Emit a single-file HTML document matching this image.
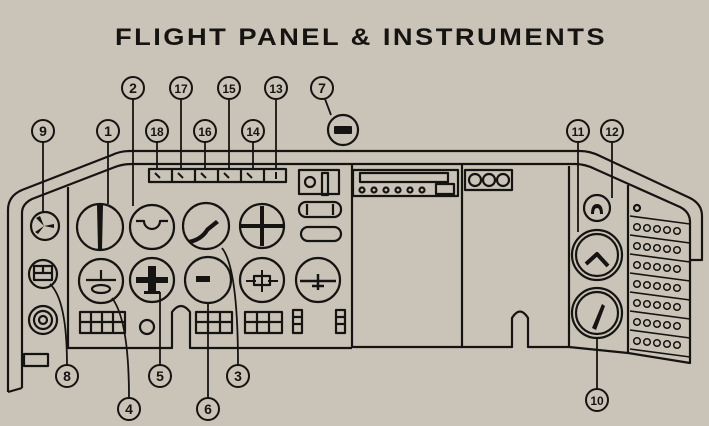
<!DOCTYPE html>
<html><head><meta charset="utf-8"><style>
html,body{margin:0;padding:0;background:#c9c4b7;}
svg{display:block}
text{font-family:"Liberation Sans",sans-serif;fill:#161412}
</style></head><body>
<svg width="709" height="426" viewBox="0 0 709 426" xmlns="http://www.w3.org/2000/svg">
<rect width="709" height="426" fill="#c9c4b7"/>
<text x="361" y="45" text-anchor="middle" font-size="24.5" font-weight="bold" letter-spacing="2.2" textLength="492" lengthAdjust="spacingAndGlyphs">FLIGHT  PANEL &amp; INSTRUMENTS</text>
<g fill="none" stroke="#161412" stroke-width="2.2" stroke-linejoin="round">
<path d="M8,392 L8,210 Q8,196 22,190 L112,155 Q120,151 130,151 L580,151 Q590,151 600,156 L690,198 Q702,204 702,216 L702,260 L690,260"/>
<path d="M22,388 L22,213 Q22,204 32,199 L115,167 Q123,164 132,164 L575,164 Q585,164 595,169 L680,207 Q690,212 690,222"/>
<path d="M8,392 L22,388"/>
<path d="M68,187 L68,348 L172,348 L172,312 Q181,300 190,312 L190,348 L352,348"/>
<path d="M352,164 L352,347 L462,347"/>
<path d="M462,164 L462,347 L512,347 L512,318 Q520,305 528,318 L528,347 L569,347 L628,353 L690,363 L690,222"/>
<path d="M569,166 L569,347"/>
<path d="M628,185 L628,353"/>
<rect x="149" y="169" width="137" height="13"/>
<path d="M172,169v13M195,169v13M218,169v13M241,169v13M264,169v13"/>
<circle cx="100" cy="227" r="23"/>
<circle cx="152" cy="227" r="22"/>
<circle cx="206" cy="226" r="23"/>
<circle cx="262" cy="226" r="22"/>
<circle cx="101" cy="281" r="22"/>
<circle cx="152" cy="280" r="22"/>
<circle cx="208" cy="280" r="23"/>
<circle cx="262" cy="280" r="22"/>
<circle cx="318" cy="280" r="22"/>
<path d="M136,221 h8 a8,8 0 0 0 16,0 h8"/>
<path d="M241,226h42M262,206v40" stroke-width="4"/>
<path d="M246,281h10m12,0h10M262,270v22" stroke-width="2"/>
<rect x="254" y="276" width="16" height="9"/>
<path d="M300,281h36M318,274v16M312,286h12" stroke-width="2.5"/>
<path d="M86,280h30M101,270v10"/>
<ellipse cx="101" cy="289" rx="9" ry="4"/>
<circle cx="45" cy="226" r="14"/>
<circle cx="43" cy="274" r="14"/>
<rect x="34" y="266" width="18" height="14"/>
<path d="M34,273h18M43,266v7"/>
<circle cx="43" cy="320" r="14"/><circle cx="43" cy="320" r="9"/><circle cx="43" cy="320" r="4"/>
<rect x="24" y="354" width="24" height="12"/>
<circle cx="147" cy="327" r="7"/>
<rect x="80" y="312" width="45" height="21"/><path d="M91,312v21M102,312v21M113,312v21M80,322h45"/>
<rect x="196" y="312" width="36" height="21"/><path d="M208,312v21M220,312v21M196,322h36"/>
<rect x="245" y="312" width="37" height="21"/><path d="M257,312v21M269,312v21M245,322h37"/>
<rect x="293" y="310" width="9" height="23"/><path d="M293,317h9M293,324h9"/>
<rect x="336" y="310" width="9" height="23"/><path d="M336,317h9M336,324h9"/>
<rect x="299" y="170" width="40" height="24"/><circle cx="310" cy="182" r="5"/><rect x="322" y="173" width="6" height="22"/>
<rect x="299" y="202" width="42" height="15" rx="7"/><path d="M307,204v11M333,204v11"/>
<rect x="301" y="227" width="40" height="14" rx="7"/>
<rect x="353" y="170" width="105" height="26"/>
<rect x="360" y="173" width="88" height="9"/>
<circle cx="362" cy="190" r="2.5"/><circle cx="374" cy="190" r="2.5"/><circle cx="386" cy="190" r="2.5"/><circle cx="398" cy="190" r="2.5"/><circle cx="410" cy="190" r="2.5"/><circle cx="422" cy="190" r="2.5"/>
<rect x="436" y="184" width="18" height="10"/>
<rect x="465" y="170" width="47" height="20"/><circle cx="475" cy="180" r="6"/><circle cx="489" cy="180" r="6"/><circle cx="503" cy="180" r="6"/>
<circle cx="597" cy="255" r="25"/><circle cx="597" cy="255" r="21"/>
<path d="M586,264 l11,-10 l11,12" stroke-width="4"/>
<circle cx="597" cy="313" r="25"/><circle cx="597" cy="313" r="21"/>
<circle cx="597" cy="208" r="13"/>
<path d="M630,216 L690,224 M630,235 L690,243 M630,254 L690,262 M630,273 L690,281 M630,292 L690,300 M630,311 L690,319 M630,330 L690,338 M630,349 L690,357" stroke-width="1.6"/>
<circle cx="637" cy="208" r="3"/>
</g>
<g fill="#161412" stroke="none">
<path d="M97,205 h6 l-1,44 h-4z"/>
<path d="M188,240 q12,-2 18,-12 l10,-8 l3,3 l-10,8 q-6,10 -19,13z"/>
<rect x="196" y="276" width="14" height="6"/>
<path d="M136,277h32v6h-32zM148,266h8v28h-8zM144,291h16v3h-16z"/>
<path d="M44,226 l-8,-8 l4,-2z M44,226 l10,-2 l0,4z M44,226 l-6,8 l-3,-2z"/>
<path d="M592,328 l10,-24 l3,2 l-9,24z"/>
<path d="M591,214 q0,-10 6,-10 q6,0 6,10 h-3 q0,-6 -3,-6 q-3,0 -3,6z"/>
<rect x="334" y="126" width="18" height="8" rx="1"/>
</g>
<g fill="none" stroke="#161412" stroke-width="1.5">
<g id="r"><circle cx="637" cy="227" r="3.3"/><circle cx="647" cy="228" r="3.3"/><circle cx="657" cy="229" r="3.3"/><circle cx="667" cy="230" r="3.3"/><circle cx="677" cy="231" r="3.3"/></g>
<use href="#r" y="19"/><use href="#r" y="38"/><use href="#r" y="57"/><use href="#r" y="76"/><use href="#r" y="95"/><use href="#r" y="114"/>
<path d="M155,173l5,5M178,173l5,5M201,173l5,5M224,173l5,5M247,173l5,5M276,172v7" stroke-width="2"/>
<circle cx="343" cy="130" r="15" stroke-width="2.2"/>
</g>
<g stroke="#161412" stroke-width="1.8" fill="none">
<path d="M108,142V204M133,99V206M181,99V170M229,99V170M276,99V170M157,142V170M205,142V170M253,142V170M43,142V212M578,142V232M612,142V198"/>
<path d="M325,99l6,16"/>
<path d="M67,365Q67,300 50,284M160,365V292M238,365Q238,268 222,248M129,398Q129,320 112,298M208,398V303M597,389V338"/>
</g>
<g fill="none" stroke="#161412" stroke-width="2">
<circle cx="108" cy="131" r="11"/><circle cx="133" cy="88" r="11"/><circle cx="181" cy="88" r="11"/><circle cx="229" cy="88" r="11"/><circle cx="276" cy="88" r="11"/><circle cx="322" cy="88" r="11"/>
<circle cx="157" cy="131" r="11"/><circle cx="205" cy="131" r="11"/><circle cx="253" cy="131" r="11"/><circle cx="43" cy="131" r="11"/><circle cx="578" cy="131" r="11"/><circle cx="612" cy="131" r="11"/>
<circle cx="67" cy="376" r="11"/><circle cx="160" cy="376" r="11"/><circle cx="238" cy="376" r="11"/><circle cx="129" cy="409" r="11"/><circle cx="208" cy="409" r="11"/><circle cx="597" cy="400" r="11"/>
</g>
<g font-size="14" font-weight="bold" text-anchor="middle">
<text x="108" y="136">1</text><text x="133" y="93">2</text><text x="181" y="93" font-size="12">17</text><text x="229" y="93" font-size="12">15</text><text x="276" y="93" font-size="12">13</text><text x="322" y="93">7</text>
<text x="157" y="136" font-size="12">18</text><text x="205" y="136" font-size="12">16</text><text x="253" y="136" font-size="12">14</text><text x="43" y="136">9</text><text x="578" y="136" font-size="12">11</text><text x="612" y="136" font-size="12">12</text>
<text x="67" y="381">8</text><text x="160" y="381">5</text><text x="238" y="381">3</text><text x="129" y="414">4</text><text x="208" y="414">6</text><text x="597" y="405" font-size="12">10</text>
</g>
</svg>
</body></html>
